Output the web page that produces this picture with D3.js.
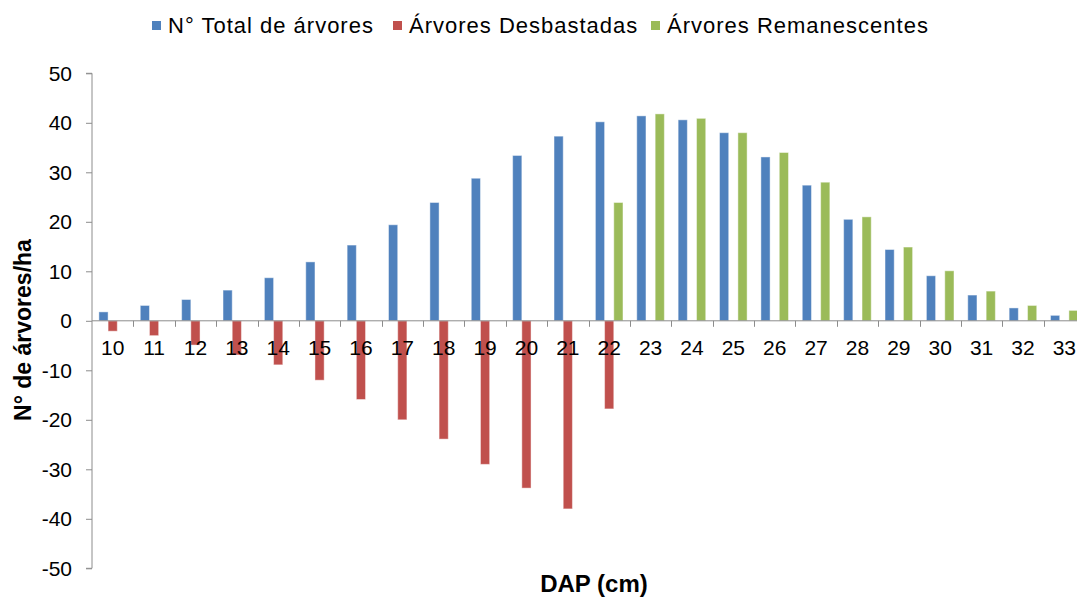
<!DOCTYPE html>
<html>
<head>
<meta charset="utf-8">
<script src="https://cdn.jsdelivr.net/npm/d3@7"></script>
<style>
  body { margin: 0; background: #fff; }
  text { font-family: "Liberation Sans", Arial, sans-serif; }
</style>
</head>
<body>
<div class="chart"></div>
<script>
var categories = ['10','11','12','13','14','15','16','17','18','19','20','21','22','23','24','25','26','27','28','29','30','31','32','33'];
var totalArvores = [1.8, 3.1, 4.3, 6.2, 8.7, 11.9, 15.3, 19.4, 23.9, 28.8, 33.4, 37.3, 40.2, 41.4, 40.6, 38.0, 33.1, 27.4, 20.5, 14.4, 9.1, 5.2, 2.6, 1.1];
var desbastadas = [-2.1, -3.0, -4.9, -6.9, -8.9, -12.0, -15.9, -20.0, -23.9, -29.0, -33.8, -38.0, -17.8, null, null, null, null, null, null, null, null, null, null, null];
var remanescentes = [null, null, null, null, null, null, null, null, null, null, null, null, 23.9, 41.8, 40.9, 38.0, 34.0, 28.0, 21.0, 14.9, 10.1, 6.0, 3.1, 2.1];
var seriesNames = ['N° Total de árvores', 'Árvores Desbastadas', 'Árvores Remanescentes'];
var seriesColors = ['#4F81BD', '#C0504D', '#9BBB59'];
var yTicks = [50, 40, 30, 20, 10, 0, -10, -20, -30, -40, -50];

var width = 1077;
var height = 597;
var plot = {left: 92, right: 1085, top: 73.3, bottom: 568.3};

var series = [totalArvores, desbastadas, remanescentes];

var x = d3.scaleBand()
  .domain(categories)
  .range([plot.left, plot.right])
  .paddingInner(0)
  .paddingOuter(0);

var inner = d3.scaleBand()
  .domain([0, 1, 2])
  .range([0, x.bandwidth()])
  .paddingOuter(0.75)
  .paddingInner(0);

var y = d3.scaleLinear()
  .domain([-50, 50])
  .range([plot.bottom, plot.top]);

var svg = d3.select('.chart').append('svg')
  .attr('width', width)
  .attr('height', height);

// bars
series.forEach(function(values, s) {
  var pts = categories.map(function(c, i) { return {cat: c, v: values[i]}; })
    .filter(function(d) { return d.v != null; });
  svg.append('g').selectAll('rect')
    .data(pts)
    .enter().append('rect')
      .attr('x', function(d) { return x(d.cat) + inner(s); })
      .attr('width', inner.bandwidth())
      .attr('y', function(d) { return y(Math.max(0, d.v)); })
      .attr('height', function(d) { return Math.abs(y(d.v) - y(0)); })
      .style('fill', seriesColors[s])
      .style('stroke', 'rgba(255,255,255,0.45)')
      .style('stroke-width', 1);
});

// y axis (plain hyphen for negatives, like the original)
var yAxis = d3.axisLeft(y)
  .tickValues(yTicks)
  .tickFormat(function(d) { return String(d); })
  .tickSize(6)
  .tickPadding(14);
var gY = svg.append('g')
  .attr('transform', 'translate(' + plot.left + ',0)')
  .call(yAxis);
gY.select('.domain').attr('stroke', '#8c8c8c').attr('d', 'M-6,' + y(50) + 'H0V' + y(-50) + 'H-6');
gY.selectAll('.tick line').attr('stroke', '#8c8c8c');
gY.selectAll('.tick text').style('font-size', '21px').attr('fill', '#000');

// x axis on zero line, ticks between categories
var gX = svg.append('g');
gX.append('line')
  .attr('x1', plot.left).attr('x2', plot.right)
  .attr('y1', y(0)).attr('y2', y(0))
  .attr('stroke', '#8c8c8c');
gX.selectAll('.xtick')
  .data(categories.slice(1))
  .enter().append('line')
    .attr('x1', function(d) { return Math.round(x(d)) + 0.5; })
    .attr('x2', function(d) { return Math.round(x(d)) + 0.5; })
    .attr('y1', y(0)).attr('y2', y(0) + 6)
    .attr('stroke', '#8c8c8c');
gX.selectAll('.xlabel')
  .data(categories)
  .enter().append('text')
    .attr('x', function(d) { return x(d) + x.bandwidth() / 2; })
    .attr('y', 355)
    .attr('text-anchor', 'middle')
    .style('font-size', '21px')
    .text(function(d) { return d; });

// axis titles
svg.append('text')
  .attr('transform', 'translate(31,330) rotate(-90)')
  .attr('text-anchor', 'middle')
  .style('font-size', '23px')
  .style('font-weight', 'bold')
  .text('N° de árvores/ha');

svg.append('text')
  .attr('x', 594)
  .attr('y', 592)
  .attr('text-anchor', 'middle')
  .style('font-size', '24px')
  .style('font-weight', 'bold')
  .text('DAP (cm)');

// legend
var legendX = [152, 393, 651];
var legend = svg.append('g');
seriesNames.forEach(function(name, i) {
  legend.append('rect')
    .attr('x', legendX[i]).attr('y', 21)
    .attr('width', 9).attr('height', 9)
    .style('fill', seriesColors[i]);
  legend.append('text')
    .attr('x', legendX[i] + 16)
    .attr('y', 33)
    .style('font-size', '22px')
    .style('letter-spacing', '1px')
    .text(name);
});
</script>
</body>
</html>
